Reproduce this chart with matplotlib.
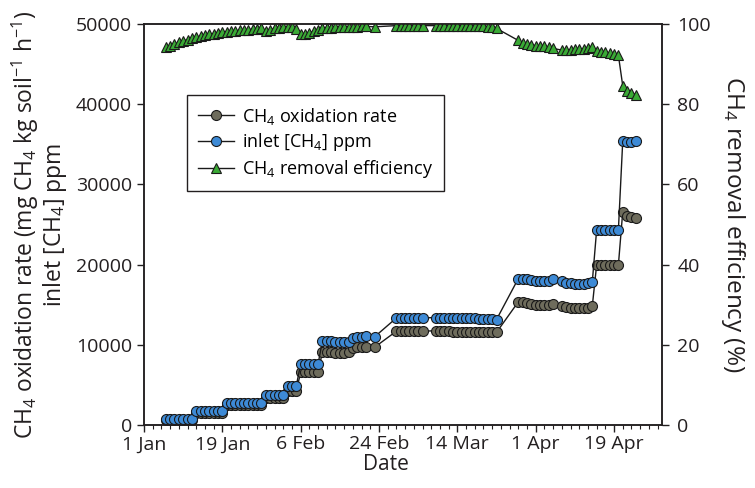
import matplotlib.pyplot as plt
from matplotlib.ticker import MultipleLocator

plt.rcParams['font.family'] = 'Open Sans'
plt.rcParams['mathtext.fontset'] = 'custom'
plt.rcParams['mathtext.rm'] = 'Open Sans'
plt.rcParams['mathtext.it'] = 'Open Sans:italic'
plt.rcParams['mathtext.bf'] = 'Open Sans:bold'

# day of year (1 Jan = 0)
days = [5, 6, 7, 8, 9, 10, 11,
        12, 13, 14, 15, 16, 17, 18,
        19, 20, 21, 22, 23, 24, 25, 26, 27,
        28, 29, 30, 31, 32,
        33, 34, 35,
        36, 37, 38, 39, 40,
        41, 42, 43, 44, 45, 46, 47,
        48, 49, 50, 51,
        53,
        58, 59, 60, 61, 62, 63, 64,
        67, 68, 69, 70, 71, 72, 73, 74, 75, 76, 77, 78, 79, 80, 81,
        86, 87, 88, 89, 90, 91, 92, 93, 94,
        96, 97, 98, 99, 100, 101, 102, 103,
        104, 105, 106, 107, 108, 109,
        110, 111, 112, 113]

inlet_ppm = [700, 700, 700, 700, 700, 700, 700,
             1750, 1750, 1750, 1750, 1750, 1750, 1750,
             2750, 2750, 2750, 2750, 2750, 2750, 2750, 2750, 2750,
             3750, 3750, 3750, 3750, 3750,
             4900, 4900, 4900,
             7600, 7600, 7600, 7600, 7600,
             10500, 10500, 10450, 10400, 10400, 10350, 10300,
             10900, 11000, 11000, 11050,
             11000,
             13350, 13350, 13350, 13350, 13350, 13350, 13350,
             13400, 13400, 13350, 13300, 13300, 13300, 13300, 13300, 13300, 13300, 13250, 13250, 13200, 13200, 13150,
             18250, 18250, 18200, 18050, 17950, 17950, 17950, 18000, 18150,
             18000, 17700, 17650, 17600, 17600, 17600, 17650, 17800,
             24300, 24300, 24300, 24300, 24300, 24300,
             35400, 35300, 35250, 35350]

oxidation_rate = [600, 600, 600, 600, 600, 600, 600,
                  1500, 1500, 1500, 1500, 1500, 1500, 1500,
                  2450, 2450, 2450, 2450, 2450, 2450, 2450, 2450, 2450,
                  3350, 3350, 3350, 3350, 3350,
                  4200, 4200, 4200,
                  6600, 6600, 6600, 6600, 6600,
                  9100, 9100, 9050, 9000, 9000, 9000, 9050,
                  9600, 9700, 9700, 9750,
                  9700,
                  11700, 11700, 11700, 11700, 11700, 11700, 11700,
                  11750, 11750, 11700, 11700, 11650, 11650, 11650, 11650, 11650, 11600, 11600, 11600, 11550, 11550, 11550,
                  15350, 15300, 15250, 15100, 14950, 14950, 14950, 15000, 15050,
                  14900, 14750, 14650, 14600, 14600, 14600, 14650, 14800,
                  19950, 19950, 19950, 19950, 19950, 19950,
                  26600, 26000, 25900, 25850]

removal_eff = [94.2, 94.6, 95.0, 95.4, 95.8, 96.1, 96.4,
               96.7, 97.0, 97.2, 97.4, 97.6, 97.8, 98.0,
               98.1, 98.2, 98.3, 98.4, 98.5, 98.6, 98.7, 98.8, 98.9,
               98.3, 98.6, 98.9, 99.1, 99.2,
               99.3, 99.3, 98.8,
               97.4, 97.6, 97.8, 98.2, 98.6,
               99.0, 99.1, 99.1, 99.2, 99.2, 99.3, 99.3,
               99.3, 99.3, 99.4, 99.4,
               99.3,
               99.6, 99.6, 99.6, 99.6, 99.6, 99.6, 99.6,
               99.6, 99.6, 99.6, 99.6, 99.5, 99.5, 99.5, 99.5, 99.5, 99.4, 99.4, 99.4, 99.3, 99.3, 98.9,
               95.9, 95.3, 95.0, 94.8, 94.6, 94.5, 94.4, 94.3, 93.9,
               93.5, 93.6, 93.6, 93.7, 93.7, 93.8, 93.9, 94.2,
               93.2, 93.0, 92.9, 92.7, 92.6, 92.2,
               84.6, 83.2, 82.8, 82.4]

tick_days = [0, 18, 36, 54, 72, 90, 108]
tick_labels = ["1 Jan", "19 Jan", "6 Feb", "24 Feb", "14 Mar", "1 Apr", "19 Apr"]

fig = plt.figure(figsize=(7.55, 4.88), dpi=100)
ax = fig.add_axes([0.1907, 0.1291, 0.686, 0.8217])
ax2 = ax.twinx()

line_kw = dict(color="#1a1a1a", linewidth=1.0, markeredgecolor="#1a1a1a", markeredgewidth=0.8)
l1, = ax.plot(days, oxidation_rate, marker="o", markersize=7.2, markerfacecolor="#6e6c5c",
              label=r"CH$_4$ oxidation rate", **line_kw)
l2, = ax.plot(days, inlet_ppm, marker="o", markersize=7.2, markerfacecolor="#3d8ad6",
              label=r"inlet [CH$_4$] ppm", **line_kw)
l3, = ax2.plot(days, removal_eff, marker="^", markersize=7.2, markerfacecolor="#3aaa35",
               label=r"CH$_4$ removal efficiency", **line_kw)

ax.set_xlim(0, 119)
ax.set_ylim(0, 50000)
ax2.set_ylim(0, 100)
ax.set_xticks(tick_days)
ax.set_xticklabels(tick_labels)
ax.xaxis.set_minor_locator(MultipleLocator(2))
ax.yaxis.set_major_locator(MultipleLocator(10000))
ax2.yaxis.set_major_locator(MultipleLocator(20))

for a in (ax, ax2):
    a.tick_params(which="major", direction="out", length=5, width=1, labelsize=14, colors="#231f20")
    a.tick_params(which="minor", direction="out", length=3, width=0.8, colors="#231f20")
    for s in a.spines.values():
        s.set_color("#231f20")
        s.set_linewidth(1.1)
ax2.tick_params(axis="y", pad=6)
ax.tick_params(axis="x", pad=2.5)

ax.set_xlabel("Date", fontsize=15, color="#231f20")
ax.xaxis.set_label_coords(0.467, -0.073)
ax.set_ylabel("CH$_4$ oxidation rate (mg CH$_4$ kg soil$^{-1}$ h$^{-1}$)\ninlet [CH$_4$] ppm",
              fontsize=16.5, color="#231f20", linespacing=1.0, labelpad=5)
ax2.set_ylabel("CH$_4$ removal efficiency (%)", fontsize=17.5, color="#231f20",
               rotation=270, labelpad=26)

leg = ax2.legend(handles=[l1, l2, l3], loc="upper left", bbox_to_anchor=(0.083, 0.823),
                 borderaxespad=0, fancybox=False, framealpha=1, fontsize=13,
                 handlelength=2.0, handletextpad=0.45, labelspacing=0.25, borderpad=0.6)
leg.get_frame().set_edgecolor("#231f20")
leg.get_frame().set_linewidth(1.0)

fig.savefig("out.png", dpi=100)
